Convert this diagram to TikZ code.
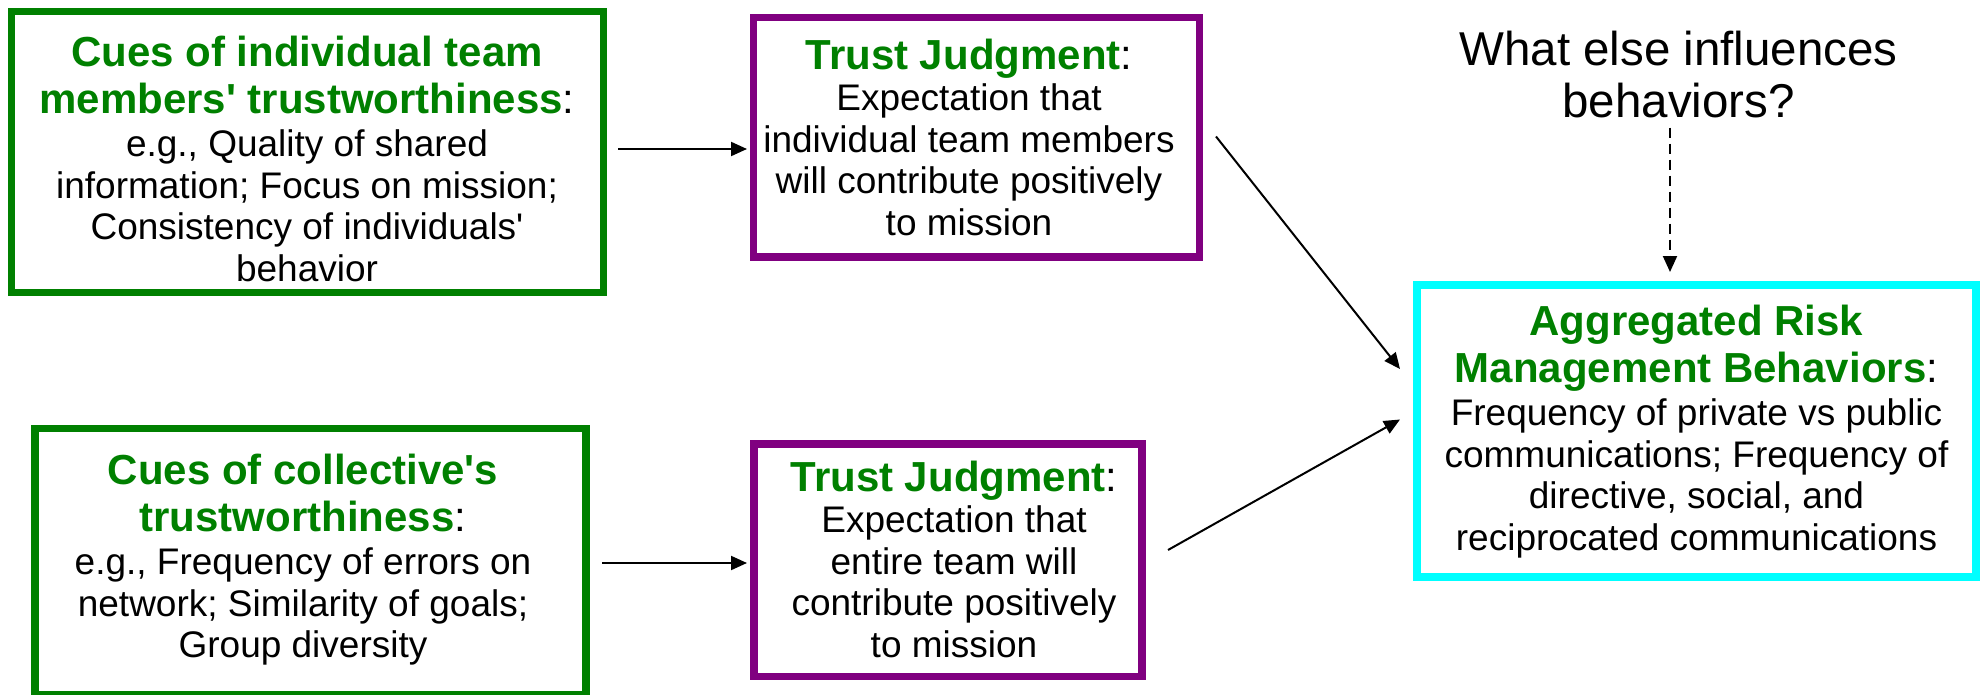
\documentclass[tikz,border=0pt]{standalone}
\usepackage{fontspec}
\setmainfont{Liberation Sans}
\usetikzlibrary{arrows.meta}

\definecolor{cuegreen}{RGB}{0,128,0}
\definecolor{judgepurple}{RGB}{128,0,128}
\definecolor{riskcyan}{RGB}{0,255,255}

% bold green heading text and its black colon
\newcommand{\hdr}[1]{{\fontsize{42}{47}\selectfont\bfseries\color{cuegreen}#1}}
\newcommand{\hcolon}{{\fontsize{42}{47}\selectfont :}}
\newcommand{\apos}{\textquotesingle}

\begin{document}
\begin{tikzpicture}[x=1pt,y=-1pt,
  framebox/.style={draw=#1, line width=7.5pt, inner sep=0pt, rectangle},
  % text blocks are placed by the baseline of their last line
  txt/.style={align=center, inner sep=0pt, anchor=base,
              font=\fontsize{37}{41.5}\selectfont},
  conn/.style={line width=2pt, -{Triangle[length=16pt,width=14pt]}},
]
\useasboundingbox (0,0) rectangle (1986,695);

% frames
\node[framebox=cuegreen, minimum width=592pt, minimum height=281pt] (cues1) at (307.5,152) {};
\node[framebox=cuegreen, minimum width=551pt, minimum height=266.5pt] (cues2) at (310.5,561.75) {};
\node[framebox=judgepurple, minimum width=446pt, minimum height=239.5pt] (trust1) at (976.5,137.25) {};
\node[framebox=judgepurple, minimum width=388pt, minimum height=232.5pt] (trust2) at (948,560) {};
\node[framebox=riskcyan, minimum width=559pt, minimum height=292pt] (risk) at (1696.5,431) {};

% texts
\node[txt] (cues1txt) at (307,281) {\hdr{Cues of individual team}\\[5.5pt]
  \hdr{members\apos{} trustworthiness}\hcolon\\[1.5pt]
  e.g., Quality of shared\\ information; Focus on mission;\\
  Consistency of individuals\apos\\ behavior};
\node[txt] (cues2txt) at (303,657.8) {\hdr{Cues of collective\apos s}\\[5.5pt]
  \hdr{trustworthiness}\hcolon\\[1.5pt]
  e.g., Frequency of errors on\\ network; Similarity of goals;\\ Group diversity};
\node[txt] (trust1txt) at (969,235.5) {\hdr{Trust Judgment}\hcolon\\
  Expectation that\\ individual team members\\ will contribute positively\\ to mission};
\node[txt] (trust2txt) at (954,657.3) {\hdr{Trust Judgment}\hcolon\\
  Expectation that\\ entire team will\\ contribute positively\\ to mission};
\node[txt] (risktxt) at (1696.5,550.2) {\hdr{Aggregated Risk}\\[5.5pt]
  \hdr{Management Behaviors}\hcolon\\[1.5pt]
  Frequency of private vs public\\ communications; Frequency of\\
  directive, social, and\\ reciprocated communications};
\node[txt, font=\fontsize{47.5}{52}\selectfont] (q) at (1678.6,118) {What else influences\\ behaviors?};

% connectors
\draw[conn] ([shift={(11,-3)}]cues1.east) -- ([shift={(-2.75,11.75)}]trust1.west);
\draw[conn] ([shift={(12.25,1.25)}]cues2.east) -- ([shift={(-3.25,3)}]trust2.west);
\draw[conn] ([shift={(12.75,-0.75)}]trust1.east) -- ([shift={(-13.25,-62)}]risk.west);
\draw[conn] ([shift={(22.25,-10)}]trust2.east) -- ([shift={(-13.25,-11.5)}]risk.west);
\draw[conn, dash pattern=on 10pt off 6pt] ([shift={(-8.6,9)}]q.south) -- ([shift={(-26.5,-9.25)}]risk.north);
\end{tikzpicture}
\end{document}
